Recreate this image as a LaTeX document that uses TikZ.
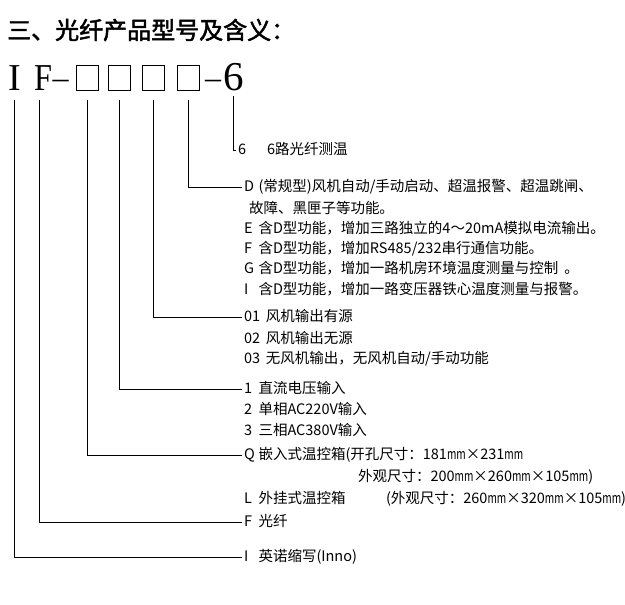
\documentclass[tikz,border=0pt]{standalone}
\usepackage{graphicx}
\usepackage{fontspec}
\setmainfont{Noto Sans CJK SC}
\newfontfamily\titlefont[AutoFakeBold=2]{Noto Sans CJK SC}
\newfontfamily\bigfont{Liberation Serif}
\newcommand\mmunit{\scalebox{0.7}[1]{mm}}
\begin{document}
\begin{tikzpicture}[x=1pt,y=-1pt,
  lbl/.style={anchor=west, inner xsep=2pt, inner ysep=0pt, outer sep=0pt,
    font=\fontsize{14.5}{14.5}\selectfont, text height=11pt, text depth=3pt},
  big/.style={anchor=base, inner sep=0pt, font=\bigfont\fontsize{38}{38}\selectfont},
  conn/.style={line width=1pt},
  codebox/.style={draw, line width=1pt, minimum width=22pt, minimum height=25pt, inner sep=0pt}]
\useasboundingbox (0,0) rectangle (625,605);
% title
\node[anchor=west, inner sep=0pt, font=\titlefont\bfseries\fontsize{24}{24}\selectfont] (title) at (7,30) {三、光纤产品型号及含义：};
% model code
\node[big] (cI) at (15,90) {I};
\node[big, anchor=base west] (cF) at (34,90) {\scalebox{0.85}[1]{F}};
\node[big, font=\bigfont\fontsize{32}{32}\selectfont] (d1) at (60.5,88) {–};
\node[codebox] (b1) at (87.5,77.5) {};
\node[codebox] (b2) at (119.5,77.5) {};
\node[codebox] (b3) at (153.5,77.5) {};
\node[codebox] (b4) at (188,77.5) {};
\node[big, font=\bigfont\fontsize{32}{32}\selectfont] (d2) at (213,88) {–};
\node[big, font=\bigfont\fontsize{41}{41}\selectfont] (c6) at (233.5,90) {6};
% line start coordinates
\coordinate (vI) at (14,100);
\coordinate (vF) at (39,100);
\coordinate (v1) at (b1.south |- vI);
\coordinate (v2) at (b2.south |- vI);
\coordinate (v3) at (b3.south |- vI);
\coordinate (v4) at (b4.south |- vI);
\coordinate (v6) at (233,96);
% labels
\node[lbl] (l6) at (236,150) {\makebox[2em][l]{6}6路光纤测温};
\node[lbl] (lD) at (242,187) {\makebox[1em][l]{D}(常规型)风机自动/手动启动、超温报警、超温跳闸、};
\node[lbl] (lD2) at (247,209) {故障、黑匣子等功能。};
\node[lbl] (lE) at (242,229) {\makebox[1em][l]{E}含D型功能，增加三路独立的4～20mA模拟电流输出。};
\node[lbl] (lF) at (242,249) {\makebox[1em][l]{F}含D型功能，增加RS485/232串行通信功能。};
\node[lbl] (lG) at (242,269) {\makebox[1em][l]{G}含D型功能，增加一路机房环境温度测量与控制\hspace{0.4em}。};
\node[lbl] (lI) at (242,290) {\makebox[1em][l]{I}含D型功能，增加一路变压器铁心温度测量与报警。};
\node[lbl] (l01) at (242,317) {\makebox[1.5em][l]{01}风机输出有源};
\node[lbl] (l02) at (242,339) {\makebox[1.5em][l]{02}风机输出无源};
\node[lbl] (l03) at (242,359) {\makebox[1.5em][l]{03}无风机输出，无风机自动/手动功能};
\node[lbl] (l1) at (242,389) {\makebox[1em][l]{1}直流电压输入};
\node[lbl] (l2) at (242,410) {\makebox[1em][l]{2}单相AC220V输入};
\node[lbl] (l3) at (242,431) {\makebox[1em][l]{3}三相AC380V输入};
\node[lbl] (lQ) at (242,455) {\makebox[1em][l]{Q}嵌入式温控箱(开孔尺寸：181\mmunit×231\mmunit};
\node[lbl] (lQ2) at (356,477) {外观尺寸：200\mmunit×260\mmunit×105\mmunit)};
\node[lbl] (lL) at (242,499) {\makebox[1em][l]{L}外挂式温控箱};
\node[lbl] (lL2) at (384,499) {(外观尺寸：260\mmunit×320\mmunit×105\mmunit)};
\node[lbl] (lFf) at (242,522) {\makebox[1em][l]{F}光纤};
\node[lbl] (lIi) at (242,557) {\makebox[1em][l]{I}英诺缩写(Inno)};
% connectors
\draw[conn] (v6) |- (l6.west);
\draw[conn] (v4) |- (lD.west);
\draw[conn] (v3) |- (l01.west);
\draw[conn] (v2) |- (l1.west);
\draw[conn] (v1) |- (lQ.west);
\draw[conn] (vF) |- (lFf.west);
\draw[conn] (vI) |- (lIi.west);
\end{tikzpicture}
\end{document}
